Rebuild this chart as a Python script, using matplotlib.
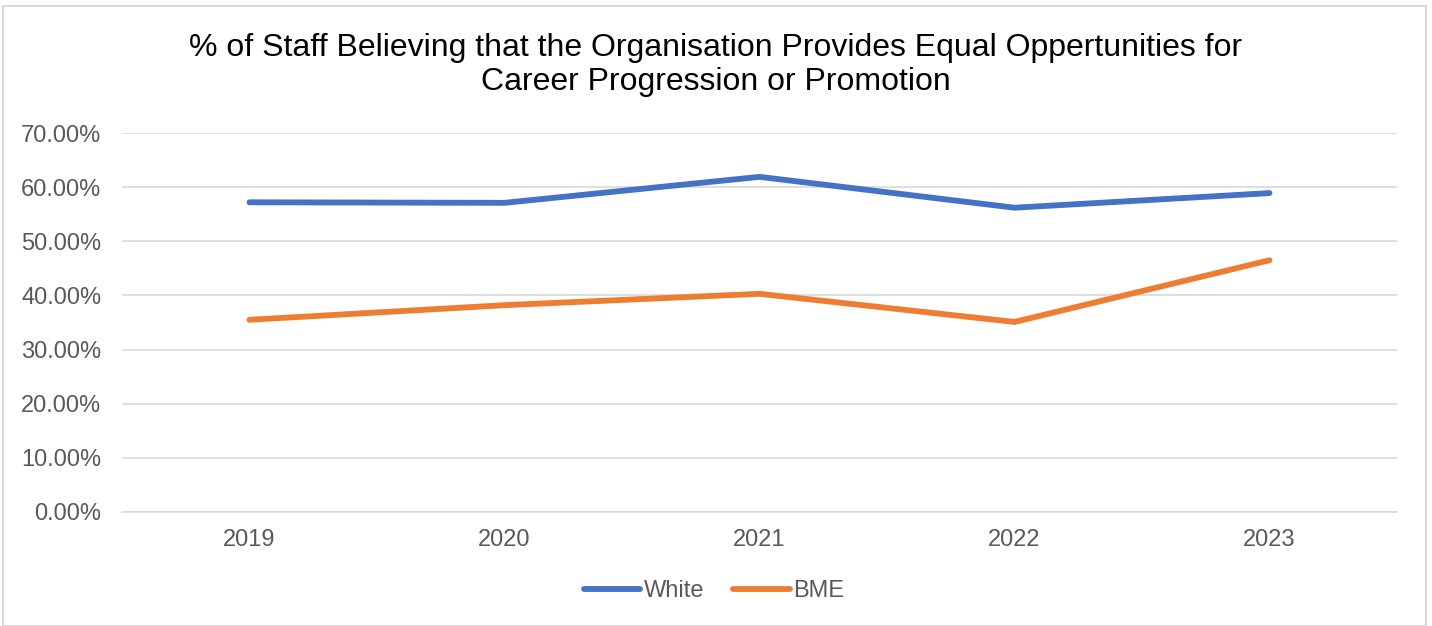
import matplotlib.pyplot as plt
from matplotlib.patches import Rectangle
from matplotlib.ticker import PercentFormatter

plt.rcParams['font.family'] = ['Liberation Sans', 'DejaVu Sans']

# survey results by year
years = ['2019', '2020', '2021', '2022', '2023']
white = [57.2, 57.1, 61.9, 56.2, 58.9]
bme = [35.5, 38.2, 40.3, 35.1, 46.5]

fig = plt.figure(figsize=(14.32, 6.26), dpi=100)
ax = fig.add_axes([122 / 1432, 1 - 512 / 626, 1275 / 1432, 379 / 626])

x = range(len(years))
ax.plot(x, white, color='#4472C4', linewidth=4.2, solid_capstyle='round', label='White')
ax.plot(x, bme, color='#ED7D31', linewidth=4.2, solid_capstyle='round', label='BME')

ax.set_xlim(-0.5, len(years) - 0.5)
ax.set_ylim(0, 70)
ax.set_yticks(range(0, 71, 10))
ax.yaxis.set_major_formatter(PercentFormatter(decimals=2))
ax.set_xticks(list(x))
ax.set_xticklabels(years)

ax.grid(axis='y', color='#D9D9D9', linewidth=1.2)
ax.set_axisbelow(True)
for s in ['top', 'right', 'left']:
    ax.spines[s].set_visible(False)
ax.spines['bottom'].set_color('#D9D9D9')
ax.spines['bottom'].set_linewidth(1.2)
ax.tick_params(axis='both', length=0, labelsize=17, colors='#595959')
ax.tick_params(axis='x', pad=12)
ax.tick_params(axis='y', pad=15)

fig.text(0.5, 1 - 65 / 626, '% of Staff Believing that the Organisation Provides Equal Oppertunities for\nCareer Progression or Promotion',
         ha='center', va='center', fontsize=23, color='black', linespacing=1.2)

leg = fig.legend(loc='center', bbox_to_anchor=(714 / 1432, 1 - 591 / 626), ncol=2, frameon=False,
                 fontsize=17, handlelength=2.4, handletextpad=0.15, columnspacing=1.2)
for t in leg.get_texts():
    t.set_color('#595959')

# outer chart border
fig.patches.append(Rectangle((3 / 1432, 0), 1423 / 1432, 1 - 6 / 626, transform=fig.transFigure,
                             fill=False, edgecolor='#D9D9D9', linewidth=1.5))

fig.savefig('out.png', dpi=100, facecolor='white')
